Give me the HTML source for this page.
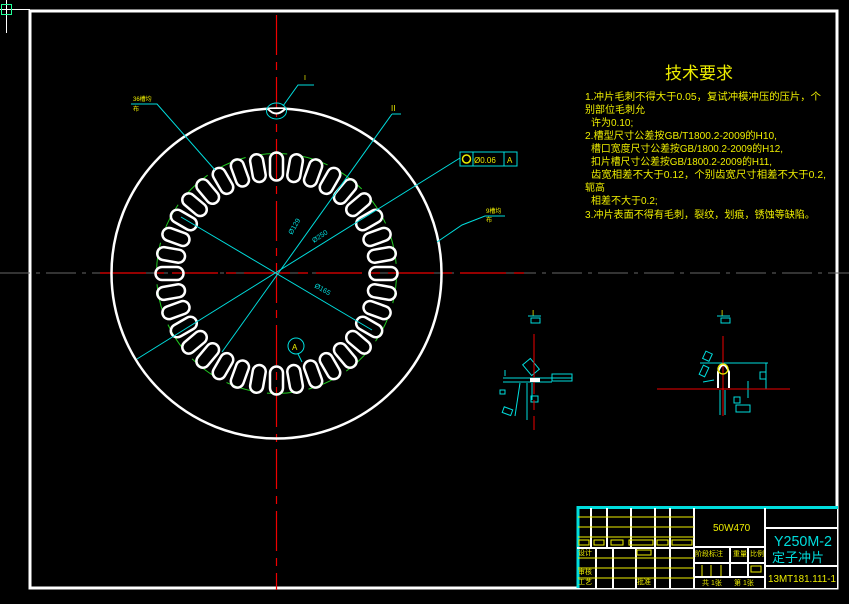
<!DOCTYPE html>
<html><head><meta charset="utf-8"><style>
html,body{margin:0;padding:0;background:#000;width:849px;height:604px;overflow:hidden}
svg{display:block}
text{font-family:"Liberation Sans","Noto Sans CJK SC",sans-serif}
</style></head><body>
<svg width="849" height="604" viewBox="0 0 849 604" xmlns="http://www.w3.org/2000/svg">
<line x1="0" y1="9.5" x2="30" y2="9.5" stroke="#fff" stroke-width="1"/>
<line x1="6.5" y1="0" x2="6.5" y2="33" stroke="#fff" stroke-width="1"/>
<rect x="1.5" y="4.5" width="10" height="10" fill="none" stroke="#2f9" stroke-width="1"/>
<rect x="30" y="11" width="807" height="577" fill="none" stroke="#fff" stroke-width="3"/>
<line x1="0" y1="273" x2="849" y2="273" stroke="#666" stroke-width="1" stroke-dasharray="30,6,4,6"/>
<line x1="100" y1="273" x2="530" y2="273" stroke="#e00" stroke-width="1.2" stroke-dasharray="46,8,10,8"/>
<line x1="276.5" y1="15" x2="276.5" y2="590" stroke="#e00" stroke-width="1.2" stroke-dasharray="40,7,8,7"/>

<circle cx="276.5" cy="273.5" r="165" fill="none" stroke="#fff" stroke-width="2.5"/>
<path d="M268,109 q8,9 17,0" fill="#000" stroke="#fff" stroke-width="2"/>
<circle cx="276.5" cy="273.5" r="120" fill="none" stroke="#2c2" stroke-width="1" stroke-dasharray="30,12"/>
<g fill="none" stroke="#fff" stroke-width="2.5" transform="translate(276.5,273.5)">
<rect x="-6.5" y="-121" width="13" height="28" rx="6.5" transform="rotate(0)"/>
<rect x="-6.5" y="-121" width="13" height="28" rx="6.5" transform="rotate(10)"/>
<rect x="-6.5" y="-121" width="13" height="28" rx="6.5" transform="rotate(20)"/>
<rect x="-6.5" y="-121" width="13" height="28" rx="6.5" transform="rotate(30)"/>
<rect x="-6.5" y="-121" width="13" height="28" rx="6.5" transform="rotate(40)"/>
<rect x="-6.5" y="-121" width="13" height="28" rx="6.5" transform="rotate(50)"/>
<rect x="-6.5" y="-121" width="13" height="28" rx="6.5" transform="rotate(60)"/>
<rect x="-6.5" y="-121" width="13" height="28" rx="6.5" transform="rotate(70)"/>
<rect x="-6.5" y="-121" width="13" height="28" rx="6.5" transform="rotate(80)"/>
<rect x="-6.5" y="-121" width="13" height="28" rx="6.5" transform="rotate(90)"/>
<rect x="-6.5" y="-121" width="13" height="28" rx="6.5" transform="rotate(100)"/>
<rect x="-6.5" y="-121" width="13" height="28" rx="6.5" transform="rotate(110)"/>
<rect x="-6.5" y="-121" width="13" height="28" rx="6.5" transform="rotate(120)"/>
<rect x="-6.5" y="-121" width="13" height="28" rx="6.5" transform="rotate(130)"/>
<rect x="-6.5" y="-121" width="13" height="28" rx="6.5" transform="rotate(140)"/>
<rect x="-6.5" y="-121" width="13" height="28" rx="6.5" transform="rotate(150)"/>
<rect x="-6.5" y="-121" width="13" height="28" rx="6.5" transform="rotate(160)"/>
<rect x="-6.5" y="-121" width="13" height="28" rx="6.5" transform="rotate(170)"/>
<rect x="-6.5" y="-121" width="13" height="28" rx="6.5" transform="rotate(180)"/>
<rect x="-6.5" y="-121" width="13" height="28" rx="6.5" transform="rotate(190)"/>
<rect x="-6.5" y="-121" width="13" height="28" rx="6.5" transform="rotate(200)"/>
<rect x="-6.5" y="-121" width="13" height="28" rx="6.5" transform="rotate(210)"/>
<rect x="-6.5" y="-121" width="13" height="28" rx="6.5" transform="rotate(220)"/>
<rect x="-6.5" y="-121" width="13" height="28" rx="6.5" transform="rotate(230)"/>
<rect x="-6.5" y="-121" width="13" height="28" rx="6.5" transform="rotate(240)"/>
<rect x="-6.5" y="-121" width="13" height="28" rx="6.5" transform="rotate(250)"/>
<rect x="-6.5" y="-121" width="13" height="28" rx="6.5" transform="rotate(260)"/>
<rect x="-6.5" y="-121" width="13" height="28" rx="6.5" transform="rotate(270)"/>
<rect x="-6.5" y="-121" width="13" height="28" rx="6.5" transform="rotate(280)"/>
<rect x="-6.5" y="-121" width="13" height="28" rx="6.5" transform="rotate(290)"/>
<rect x="-6.5" y="-121" width="13" height="28" rx="6.5" transform="rotate(300)"/>
<rect x="-6.5" y="-121" width="13" height="28" rx="6.5" transform="rotate(310)"/>
<rect x="-6.5" y="-121" width="13" height="28" rx="6.5" transform="rotate(320)"/>
<rect x="-6.5" y="-121" width="13" height="28" rx="6.5" transform="rotate(330)"/>
<rect x="-6.5" y="-121" width="13" height="28" rx="6.5" transform="rotate(340)"/>
<rect x="-6.5" y="-121" width="13" height="28" rx="6.5" transform="rotate(350)"/>
</g>

<g stroke="#0dd" stroke-width="1" fill="none">
<line x1="137" y1="359" x2="460" y2="158"/>
<line x1="222" y1="352" x2="392" y2="114"/>
<line x1="392" y1="114" x2="401" y2="114"/>
<line x1="181" y1="217" x2="372" y2="330"/>
<polyline points="131,104 157,104 215,170"/>
<polyline points="437,242 462,225 485,216 505,216"/>
<polyline points="283,106 298,85 314,85"/>
<ellipse cx="276.5" cy="111" rx="10" ry="8"/>
<circle cx="296" cy="346" r="8"/>
<line x1="298" y1="354" x2="302" y2="362"/>
<rect x="460" y="152" width="57" height="14"/>
<line x1="473" y1="152" x2="473" y2="166"/>
<line x1="504" y1="152" x2="504" y2="166"/>
</g>
<circle cx="466.5" cy="159" r="4" fill="none" stroke="#ee0" stroke-width="1.5"/>
<g fill="#ee0" font-size="8">
<text x="474" y="163">Ø0.06</text>
<text x="507" y="163">A</text>
<text x="304" y="80" font-size="7">I</text>
<text x="391" y="111" font-size="8">II</text>
<text x="292" y="350" font-size="8">A</text>
<text x="133" y="101" font-size="6">36槽均</text>
<text x="133" y="111" font-size="6">布</text>
<text x="486" y="213" font-size="6">9槽均</text>
<text x="486" y="222" font-size="6">布</text>
</g>
<g fill="#0dd" font-size="7">
<text x="292" y="235" transform="rotate(-60 292 235)">Ø129</text>
<text x="314" y="243" transform="rotate(-34 314 243)">Ø250</text>
<text x="314" y="287" transform="rotate(30 314 287)">Ø165</text>
</g>

<g fill="#ee0">
<text x="665" y="79" font-size="17">技术要求</text>
<g font-size="10" textLength="236">
<text x="585" y="100" textLength="236" lengthAdjust="spacingAndGlyphs">1.冲片毛刺不得大于0.05，复试冲模冲压的压片，个</text>
<text x="585" y="113">别部位毛刺允</text>
<text x="591" y="126">许为0.10;</text>
<text x="585" y="139" textLength="192" lengthAdjust="spacingAndGlyphs">2.槽型尺寸公差按GB/T1800.2-2009的H10,</text>
<text x="591" y="152" textLength="192" lengthAdjust="spacingAndGlyphs">槽口宽度尺寸公差按GB/1800.2-2009的H12,</text>
<text x="591" y="165" textLength="181" lengthAdjust="spacingAndGlyphs">扣片槽尺寸公差按GB/1800.2-2009的H11,</text>
<text x="591" y="178" textLength="235" lengthAdjust="spacingAndGlyphs">齿宽相差不大于0.12，个别齿宽尺寸相差不大于0.2,</text>
<text x="585" y="191">轭高</text>
<text x="591" y="204">相差不大于0.2;</text>
<text x="585" y="218" textLength="230" lengthAdjust="spacingAndGlyphs">3.冲片表面不得有毛刺，裂纹，划痕，锈蚀等缺陷。</text>
</g>
</g>

<g fill="#ee0" font-size="8"><text x="532" y="316">I</text><text x="721" y="316">I</text></g>
<g stroke="#0dd" stroke-width="1" fill="none">
<line x1="528" y1="316" x2="541" y2="316"/><rect x="531" y="318" width="9" height="5"/>
<line x1="717" y1="316" x2="730" y2="316"/><rect x="721" y="318" width="9" height="5"/>
<line x1="503" y1="378" x2="572" y2="378"/><line x1="503" y1="382" x2="552" y2="382"/>
<rect x="552" y="374" width="20" height="7"/>
<rect x="526" y="360" width="10" height="14" transform="rotate(-40 531 367)"/>
<line x1="527" y1="383" x2="527" y2="420"/><line x1="532" y1="383" x2="532" y2="400"/>
<rect x="531" y="396" width="7" height="6"/>
<line x1="520" y1="383" x2="515" y2="416"/>
<rect x="503" y="408" width="9" height="6" transform="rotate(20 507 411)"/>
<rect x="500" y="390" width="5" height="4"/>
<line x1="505" y1="370" x2="505" y2="376"/>
<line x1="700" y1="363" x2="768" y2="363"/>
<line x1="700" y1="389" x2="768" y2="389"/>
<rect x="760" y="372" width="6" height="7"/>
<line x1="766" y1="363" x2="766" y2="389"/>
<line x1="748" y1="381" x2="748" y2="398"/>
<rect x="734" y="397" width="6" height="6"/>
<rect x="736" y="405" width="14" height="7"/>
<line x1="720" y1="390" x2="720" y2="415"/><line x1="725" y1="390" x2="725" y2="415"/>
<rect x="704" y="352" width="7" height="8" transform="rotate(25 707 356)"/>
<rect x="701" y="366" width="6" height="10" transform="rotate(25 704 371)"/>
<line x1="703" y1="382" x2="714" y2="380"/>
</g>
<line x1="534" y1="334" x2="534" y2="430" stroke="#e00" stroke-width="1" stroke-dasharray="60,6,10,6"/>
<line x1="657" y1="389" x2="790" y2="389" stroke="#e00" stroke-width="1"/>
<line x1="723" y1="336" x2="723" y2="416" stroke="#e00" stroke-width="1"/>
<path d="M718,388 L718,372 Q723,358 729,372 L729,388" fill="none" stroke="#fff" stroke-width="2"/>
<circle cx="723" cy="369" r="5" fill="none" stroke="#ee0" stroke-width="1.3"/>
<path d="M530,378 L540,378 L540,382 L530,382Z" fill="#fff"/>

<rect x="577" y="506" width="260" height="82" fill="#000"/>
<line x1="577" y1="507.5" x2="838" y2="507.5" stroke="#0dd" stroke-width="3"/>
<line x1="578" y1="506" x2="578" y2="588" stroke="#0dd" stroke-width="3"/>
<g stroke="#fff" stroke-width="2">
<line x1="591" y1="508" x2="591" y2="547"/><line x1="607" y1="508" x2="607" y2="547"/>
<line x1="631" y1="508" x2="631" y2="547"/><line x1="655" y1="508" x2="655" y2="547"/>
<line x1="670" y1="508" x2="670" y2="547"/>
<line x1="694" y1="508" x2="694" y2="588"/><line x1="765" y1="508" x2="765" y2="588"/>
<line x1="577" y1="548" x2="694" y2="548"/>
<line x1="596" y1="548" x2="596" y2="588"/><line x1="613" y1="548" x2="613" y2="588"/>
<line x1="636" y1="548" x2="636" y2="588"/><line x1="655" y1="548" x2="655" y2="588"/>
<line x1="670" y1="548" x2="670" y2="588"/>
<line x1="694" y1="547" x2="765" y2="547"/>
<line x1="694" y1="563" x2="765" y2="563"/>
<line x1="694" y1="577" x2="765" y2="577"/>
<line x1="730" y1="547" x2="730" y2="577"/><line x1="748" y1="547" x2="748" y2="577"/>
<line x1="765" y1="528" x2="838" y2="528"/><line x1="765" y1="566" x2="838" y2="566"/>
</g>
<g stroke="#ee0" stroke-width="1" fill="none">
<line x1="578" y1="517" x2="694" y2="517"/><line x1="578" y1="527" x2="694" y2="527"/>
<line x1="578" y1="537" x2="694" y2="537"/>
<rect x="579" y="540" width="10" height="5"/><rect x="594" y="540" width="10" height="5"/>
<rect x="611" y="540" width="12" height="5"/><rect x="629" y="540" width="24" height="5"/>
<rect x="657" y="540" width="11" height="5"/><rect x="672" y="540" width="20" height="5"/>
<line x1="578" y1="558" x2="694" y2="558"/><line x1="578" y1="568" x2="694" y2="568"/>
<line x1="578" y1="578" x2="694" y2="578"/>
<rect x="637" y="550" width="14" height="5"/>
<line x1="702" y1="565" x2="702" y2="576"/><line x1="711" y1="565" x2="711" y2="576"/><line x1="721" y1="565" x2="721" y2="576"/>
<rect x="751" y="566" width="10" height="6"/>
</g>
<g fill="#ee0" font-size="7">
<text x="578" y="555">设计</text><text x="578" y="574">审核</text><text x="578" y="584">工艺</text>
<text x="637" y="584">批准</text>
<text x="695" y="556">阶段标注</text><text x="733" y="556">重量</text><text x="750" y="556">比例</text>
<text x="702" y="585">共 1张</text><text x="734" y="585">第 1张</text>
<text x="713" y="531" font-size="10">50W470</text>
<text x="768" y="582" font-size="10.5" textLength="68" lengthAdjust="spacingAndGlyphs">13MT181.111-1</text>
</g>
<g fill="#0dd">
<text x="774" y="546" font-size="15" textLength="58" lengthAdjust="spacingAndGlyphs">Y250M-2</text>
<text x="772" y="562" font-size="13">定子冲片</text>
</g>
</svg>
</body></html>
